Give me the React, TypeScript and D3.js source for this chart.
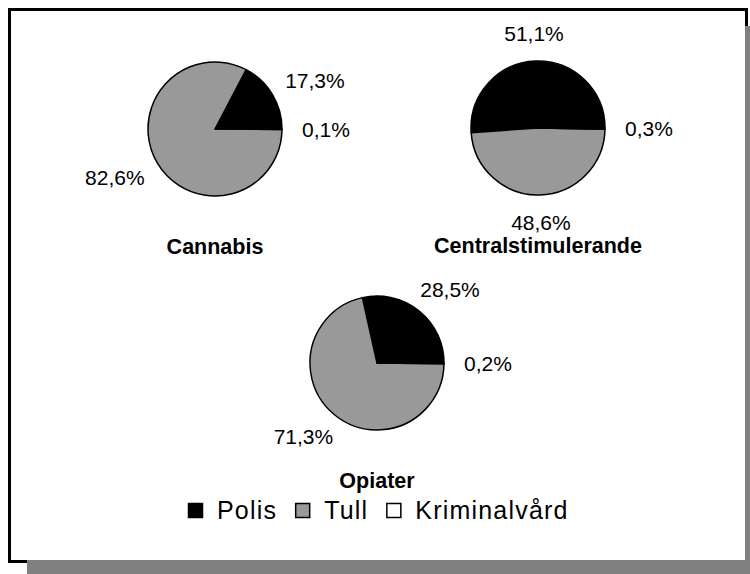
import React, { useEffect, useRef } from "react";
import * as d3 from "d3";

const categories = ["Polis", "Tull", "Kriminalvård"];
const colors = ["#000000", "#999999", "#ffffff"];
const drugs = ["Cannabis", "Centralstimulerande", "Opiater"];
const cannabis = [17.3, 82.6, 0.1];
const centralstimulerande = [51.1, 48.6, 0.3];
const opiater = [28.5, 71.3, 0.2];
const seriesValues = [cannabis, centralstimulerande, opiater];

const W = 750;
const H = 574;
const FONT = "'Liberation Sans', Arial, Helvetica, sans-serif";

export default function App() {
  const ref = useRef<SVGSVGElement>(null);

  useEffect(() => {
    const svg = d3.select(ref.current);
    svg.selectAll("*").remove();

    const canvas = document.createElement("canvas");
    const ctx = canvas.getContext("2d")!;
    const measure = (t: string, size: number, bold = false) => {
      ctx.font = `${bold ? "bold " : ""}${size}px ${FONT}`;
      return ctx.measureText(t).width;
    };

    // frame
    svg.append("rect").attr("x", 0).attr("y", 0).attr("width", W).attr("height", H).attr("fill", "#ffffff");
    svg.append("rect")
      .attr("x", 9.5).attr("y", 9.5).attr("width", 737).attr("height", 552)
      .attr("fill", "#ffffff").attr("stroke", "#000").attr("stroke-width", 3);
    svg.append("rect").attr("x", 745).attr("y", 26).attr("width", 5).attr("height", 548).attr("fill", "#808080");
    svg.append("rect").attr("x", 27).attr("y", 560).attr("width", 723).attr("height", 14).attr("fill", "#808080");

    const centersX = d3.scaleOrdinal<string, number>().domain(drugs).range([215, 538, 377]);
    const centersY = d3.scaleOrdinal<string, number>().domain(drugs).range([129, 128, 363]);
    const r = 67;

    const pie = d3.pie<number>().sort(null).value((d) => d)
      .startAngle(Math.PI / 2).endAngle(Math.PI / 2 - 2 * Math.PI);
    const arc = d3.arc<d3.PieArcDatum<number>>().innerRadius(0).outerRadius(r);
    const fmt = (v: number) => v.toFixed(1).replace(".", ",") + "%";
    const labelSize = 21;
    const pad = 20;

    drugs.forEach((name, i) => {
      const cx = centersX(name);
      const cy = centersY(name);
      const g = svg.append("g").attr("transform", `translate(${cx},${cy})`);
      const arcs = pie(seriesValues[i]);
      g.selectAll("path")
        .data(arcs)
        .join("path")
        .attr("d", arc)
        .attr("fill", (_, j) => colors[j])
        .attr("stroke", "#000")
        .attr("stroke-width", 1.5)
        .attr("stroke-linejoin", "round");

      arcs.forEach((a) => {
        const mid = (a.startAngle + a.endAngle) / 2;
        const s = Math.sin(mid);
        const c = Math.cos(mid);
        const txt = fmt(a.data);
        const hw = measure(txt, labelSize) / 2;
        const hh = 7.8;
        const x = (r + pad) * s + hw * s;
        const y = -(r + pad) * c - hh * c;
        g.append("text")
          .attr("x", x)
          .attr("y", y)
          .attr("dy", "0.36em")
          .attr("text-anchor", "middle")
          .attr("font-family", FONT)
          .attr("font-size", labelSize)
          .attr("fill", "#000")
          .text(txt);
      });

      g.append("text")
        .attr("x", 0)
        .attr("y", 125)
        .attr("text-anchor", "middle")
        .attr("font-family", FONT)
        .attr("font-weight", "bold")
        .attr("font-size", 21.5)
        .attr("fill", "#000")
        .text(name);
    });

    // legend
    const legSize = 25;
    const spacing = 1.2;
    const box = 14;
    const boxGap = 15;
    const itemGap = 18;
    const widths = categories.map((c) => box + boxGap + measure(c, legSize) + spacing * c.length);
    let x0 = 188;
    const baseline = 519;
    categories.forEach((c, i) => {
      svg.append("rect")
        .attr("x", x0 + 0.5).attr("y", baseline - 15.5)
        .attr("width", box).attr("height", box)
        .attr("fill", colors[i]).attr("stroke", "#000").attr("stroke-width", 1.5);
      svg.append("text")
        .attr("x", x0 + box + boxGap)
        .attr("y", baseline)
        .attr("font-family", FONT)
        .attr("font-size", legSize)
        .attr("letter-spacing", spacing)
        .attr("fill", "#000")
        .text(c);
      x0 += widths[i] + itemGap;
    });
  }, []);

  return (
    <svg
      ref={ref}
      width={W}
      height={H}
      style={{ position: "absolute", left: 0, top: 0, display: "block" }}
    />
  );
}
